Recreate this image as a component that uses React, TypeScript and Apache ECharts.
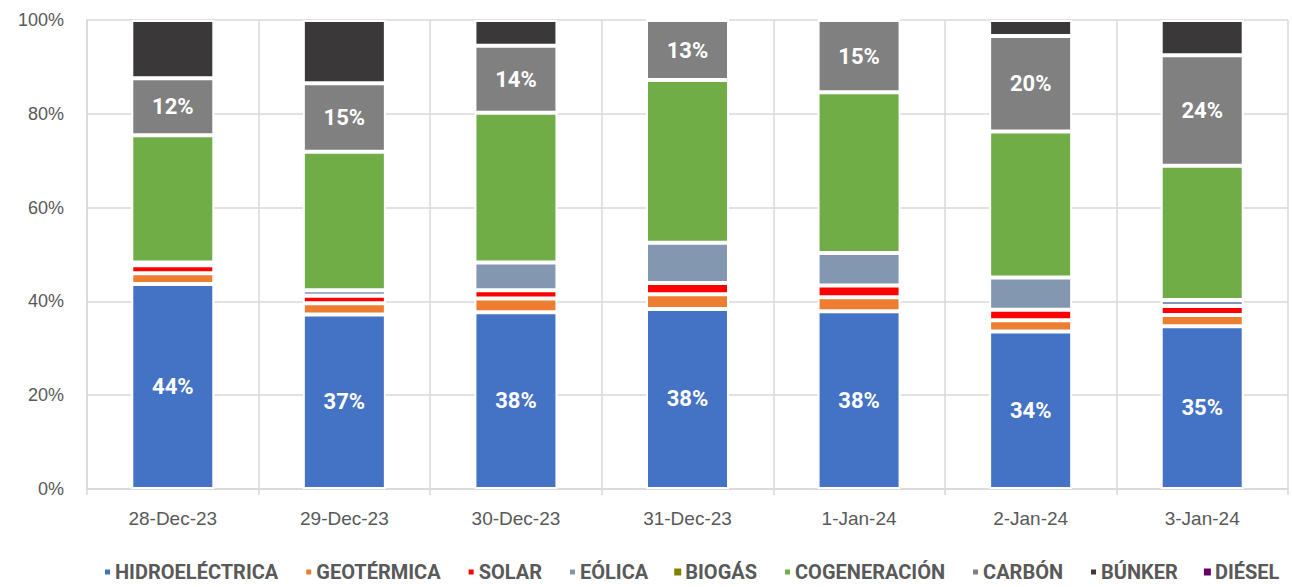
import React, { useEffect, useRef } from "react";
import * as echarts from "echarts";

const categories = ["28-Dec-23", "29-Dec-23", "30-Dec-23", "31-Dec-23", "1-Jan-24", "2-Jan-24", "3-Jan-24"];
const hidroelectrica = [43.7, 37.2, 37.7, 38.4, 37.9, 33.6, 34.7];
const geotermica = [2.3, 2.4, 2.9, 3.1, 3.0, 2.4, 2.4];
const solar = [1.7, 1.6, 1.8, 2.4, 2.5, 2.2, 1.9];
const eolica = [0.6, 1.2, 5.9, 8.6, 6.9, 6.9, 1.3];
const biogas = [0, 0, 0, 0, 0, 0, 0];
const cogeneracion = [27.1, 29.5, 31.9, 34.7, 34.3, 31.1, 28.6];
const carbon = [12.2, 14.6, 14.3, 12.8, 15.4, 20.4, 23.6];
const bunker = [12.4, 13.5, 5.5, 0, 0, 3.4, 7.5];
const diesel = [0, 0, 0, 0, 0, 0, 0];
const yTicks = [0, 20, 40, 60, 80, 100];

const seriesDefs = [
  { name: "HIDROELÉCTRICA", data: hidroelectrica, color: "#4472C4", label: true },
  { name: "GEOTÉRMICA", data: geotermica, color: "#ED7D31", label: false },
  { name: "SOLAR", data: solar, color: "#FF0000", label: false },
  { name: "EÓLICA", data: eolica, color: "#8497B0", label: false },
  { name: "BIOGÁS", data: biogas, color: "#808000", label: false },
  { name: "COGENERACIÓN", data: cogeneracion, color: "#70AD47", label: false },
  { name: "CARBÓN", data: carbon, color: "#808080", label: true },
  { name: "BÚNKER", data: bunker, color: "#3A3838", label: false },
  { name: "DIÉSEL", data: diesel, color: "#660066", label: false },
];

const narrow = "'Liberation Sans Narrow', 'Arial Narrow', 'Roboto', sans-serif";

export default function App() {
  const ref = useRef<HTMLDivElement>(null);
  useEffect(() => {
    document.body.style.margin = "0";
    const chart = echarts.init(ref.current!, null, { renderer: "svg" });
    chart.setOption({
      animation: false,
      backgroundColor: "#ffffff",
      grid: { left: 87, right: 4, top: 20, bottom: 98, containLabel: false },
      legend: {
        bottom: 0,
        left: 98,
        itemWidth: 7,
        itemHeight: 7,
        itemGap: 26,
        icon: "rect",
        textStyle: { fontFamily: narrow, fontWeight: "bold", fontSize: 20, color: "#595959", padding: [0, 0, 0, -1] },
        data: seriesDefs.map((s) => s.name),
      },
      xAxis: {
        type: "category",
        data: categories,
        boundaryGap: true,
        axisLine: { show: true, lineStyle: { color: "#D9D9D9", width: 1.5 } },
        axisTick: { show: true, length: 6, lineStyle: { color: "#D9D9D9", width: 1.5 } },
        splitLine: { show: true, lineStyle: { color: "#D9D9D9", width: 1.5 } },
        axisLabel: { fontFamily: "Arial, 'Liberation Sans', sans-serif", fontSize: 19, color: "#595959", margin: 20 },
      },
      yAxis: {
        type: "value",
        min: yTicks[0],
        max: yTicks[yTicks.length - 1],
        interval: 20,
        axisLine: { show: true, lineStyle: { color: "#D9D9D9", width: 1.5 } },
        axisTick: { show: false },
        splitLine: { show: true, lineStyle: { color: "#D9D9D9", width: 1.5 } },
        axisLabel: { formatter: "{value}%", fontFamily: "Arial, 'Liberation Sans', sans-serif", fontSize: 18, color: "#595959", margin: 23 },
      },
      series: seriesDefs.map((s) => ({
        name: s.name,
        type: "bar",
        stack: "total",
        barWidth: 83,
        data: s.data,
        itemStyle: {
          color: s.color,
          borderColor: "#ffffff",
          borderWidth: s.data.every((v) => v === 0) ? 0 : 2,
        },
        label: {
          show: s.label,
          position: "inside",
          color: "#ffffff",
          fontFamily: narrow,
          fontWeight: "bold",
          fontSize: 22,
          formatter: (p: any) => Math.round(p.value) + "%",
        },
      })),
    });
    return () => chart.dispose();
  }, []);
  return <div ref={ref} style={{ position: "fixed", left: 0, top: 0, width: 1292, height: 587 }} />;
}
